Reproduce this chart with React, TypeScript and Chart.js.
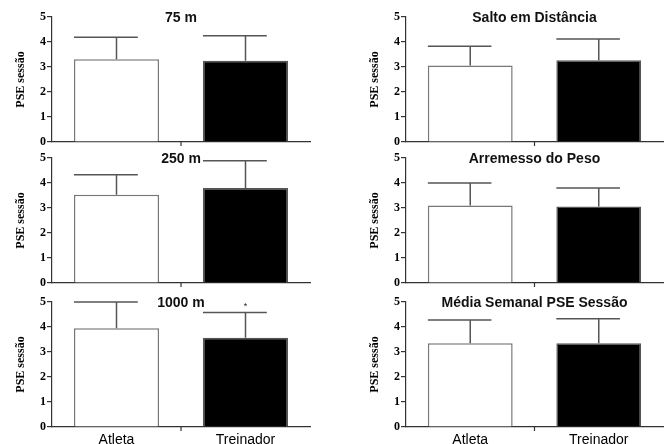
import React, { useEffect, useRef } from 'react';
import { Chart, registerables } from 'chart.js';

Chart.register(...registerables);

// ---- Data ----
const categories = ['Atleta', 'Treinador'];
const yAxisTitle = 'PSE sessão';

const title75 = '75 m';
const means75 = [3.31, 3.25];
const errs75 = [0.88, 1.0];

const titleSalto = 'Salto em Distância';
const meansSalto = [3.06, 3.27];
const errsSalto = [0.77, 0.85];

const title250 = '250 m';
const means250 = [3.53, 3.8];
const errs250 = [0.8, 1.09];

const titleArremesso = 'Arremesso do Peso';
const meansArremesso = [3.1, 3.06];
const errsArremesso = [0.9, 0.74];

const title1000 = '1000 m';
const means1000 = [3.95, 3.57];
const errs1000 = [1.05, 1.01];
const star1000 = ['', '*'];

const titleMedia = 'Média Semanal PSE Sessão';
const meansMedia = [3.35, 3.35];
const errsMedia = [0.93, 0.98];

const noStar = ['', ''];

type PanelProps = {
  title: string;
  means: number[];
  errs: number[];
  stars: string[];
  showX: boolean;
  left: number;
  top: number;
  width: number;
  height: number;
  padTop: number;
  padBottom: number;
};

function Panel(p: PanelProps) {
  const ref = useRef<HTMLCanvasElement | null>(null);
  useEffect(() => {
    if (!ref.current) return;
    const plugin = {
      id: 'errbars',
      afterDatasetsDraw(chart: any) {
        const { ctx, chartArea } = chart;
        const x = chart.scales.x;
        const y = chart.scales.y;
        const meta = chart.getDatasetMeta(0);
        ctx.save();
        meta.data.forEach((bar: any, i: number) => {
          const v = p.means[i];
          const e = p.errs[i];
          const cx = bar.x;
          const w = bar.width;
          const base = y.getPixelForValue(v);
          const top = y.getPixelForValue(v + e);
          ctx.strokeStyle = '#555';
          ctx.lineWidth = 1.5;
          ctx.beginPath();
          ctx.moveTo(cx, base);
          ctx.lineTo(cx, top);
          ctx.moveTo(cx - w / 2, top);
          ctx.lineTo(cx + w / 4, top);
          ctx.stroke();
          if (p.stars[i]) {
            ctx.fillStyle = '#222';
            ctx.font = '9px "Liberation Sans"';
            ctx.textAlign = 'center';
            ctx.textBaseline = 'bottom';
            ctx.fillText(p.stars[i], cx, top - 1);
          }
        });
        // middle tick on x axis
        const mx = (x.getPixelForValue(0) + x.getPixelForValue(1)) / 2;
        ctx.strokeStyle = '#333';
        ctx.lineWidth = 1.2;
        ctx.beginPath();
        ctx.moveTo(mx, chartArea.bottom);
        ctx.lineTo(mx, chartArea.bottom + 4);
        ctx.stroke();
        // panel title
        ctx.fillStyle = '#111';
        ctx.font = 'bold 14px "Liberation Sans"';
        ctx.textAlign = 'center';
        ctx.textBaseline = 'middle';
        ctx.fillText(p.title, (chartArea.left + chartArea.right) / 2, y.getPixelForValue(5) + 1);
        ctx.restore();
      },
    };
    const chart = new Chart(ref.current, {
      type: 'bar',
      data: {
        labels: categories,
        datasets: [
          {
            data: p.means,
            backgroundColor: ['#ffffff', '#000000'],
            borderColor: ['#777777', '#555555'],
            borderWidth: 1.5,
            barPercentage: 0.66,
            categoryPercentage: 1,
          },
        ],
      },
      options: {
        responsive: false,
        animation: false,
        layout: { padding: { left: 0, right: 2, top: p.padTop, bottom: p.padBottom } },
        plugins: { legend: { display: false }, tooltip: { enabled: false }, title: { display: false } },
        scales: {
          x: {
            type: 'category',
            offset: true,
            grid: { display: false, drawTicks: false },
            border: { display: true, color: '#333', width: 1.2 },
            ticks: {
              display: p.showX,
              color: '#000',
              padding: 5,
              font: { family: '"Liberation Sans"', size: 14 },
            },
            afterFit: (s: any) => {
              s.height = p.showX ? 17 : 0;
            },
          },
          y: {
            min: 0,
            max: 5,
            ticks: {
              stepSize: 1,
              color: '#000',
              padding: 1,
              font: { family: '"Liberation Serif"', size: 12, weight: 'bold' },
            },
            grid: { drawOnChartArea: false, drawTicks: true, tickLength: 5, color: '#333', lineWidth: 1.2 },
            border: { display: true, color: '#333', width: 1.2 },
            title: {
              display: true,
              text: yAxisTitle,
              color: '#000',
              padding: { top: 14, bottom: 0 },
              font: { family: '"Liberation Serif"', size: 12, weight: 'bold' },
            },
            afterFit: (s: any) => {
              s.width = 52;
            },
          },
        },
      },
      plugins: [plugin],
    } as any);
    return () => chart.destroy();
  }, []);
  return (
    <canvas
      ref={ref}
      width={p.width}
      height={p.height}
      style={{ position: 'absolute', left: p.left, top: p.top, width: p.width, height: p.height }}
    />
  );
}

export default function App() {
  const L = { left: 0, width: 312 };
  const R = { left: 354, width: 311 };
  const row1 = { top: 0, height: 160, padTop: 17, padBottom: 18 };
  const row2 = { top: 141, height: 160, padTop: 17, padBottom: 18 };
  const row3 = { top: 285, height: 159, padTop: 17, padBottom: 0 };
  return (
    <div style={{ position: 'absolute', left: 0, top: 0, width: 671, height: 444, background: '#fff', overflow: 'hidden' }}>
      <Panel title={title75} means={means75} errs={errs75} stars={noStar} showX={false} {...L} {...row1} />
      <Panel title={titleSalto} means={meansSalto} errs={errsSalto} stars={noStar} showX={false} {...R} {...row1} />
      <Panel title={title250} means={means250} errs={errs250} stars={noStar} showX={false} {...L} {...row2} />
      <Panel title={titleArremesso} means={meansArremesso} errs={errsArremesso} stars={noStar} showX={false} {...R} {...row2} />
      <Panel title={title1000} means={means1000} errs={errs1000} stars={star1000} showX={true} {...L} {...row3} />
      <Panel title={titleMedia} means={meansMedia} errs={errsMedia} stars={noStar} showX={true} {...R} {...row3} />
    </div>
  );
}
